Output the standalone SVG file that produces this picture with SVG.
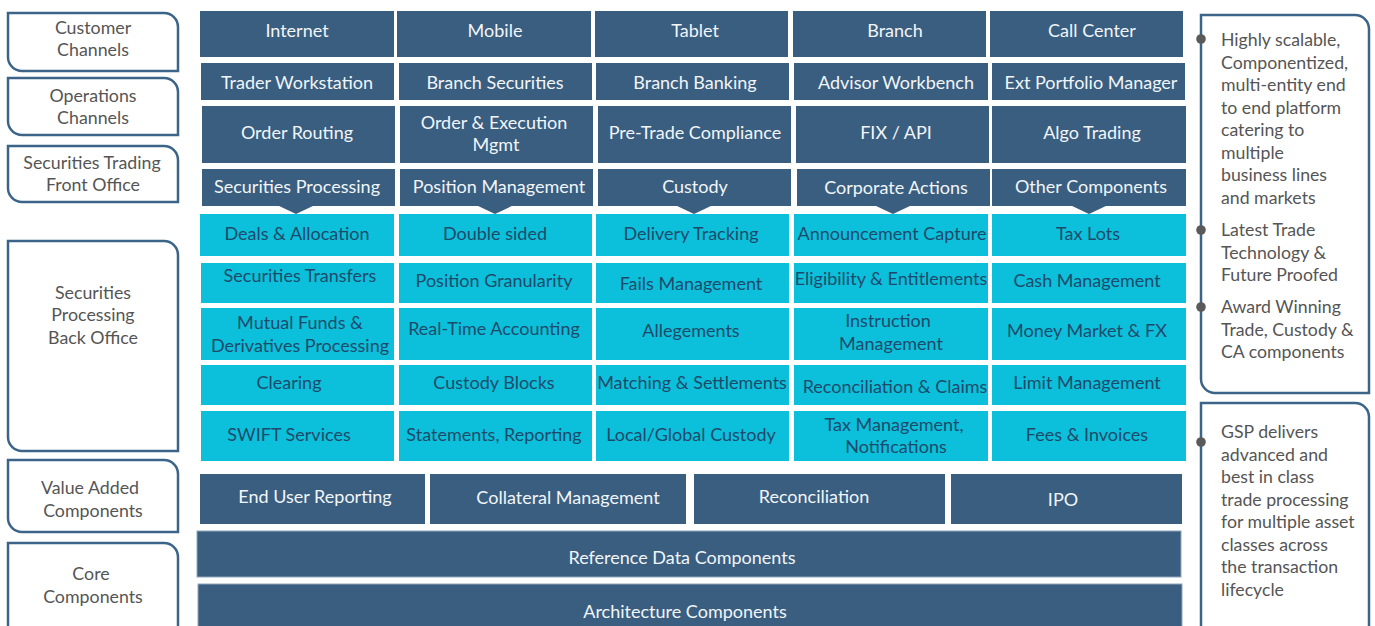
<svg xmlns="http://www.w3.org/2000/svg" width="1375" height="626" viewBox="0 0 1375 626">
<style>
.d{fill:#395e80}
.c{fill:#0cbfdb}
.tw{font-family:Lato,"Open Sans",sans-serif;font-size:18px;fill:#f2f5f8;text-anchor:middle}
.tc{font-family:Lato,"Open Sans",sans-serif;font-size:18px;fill:#1e4a6a;text-anchor:middle}
.lb{fill:#fff;stroke:#3b6488;stroke-width:2.5}
.tl{font-family:Lato,"Open Sans",sans-serif;font-size:17.8px;fill:#555;text-anchor:middle}
.tr{font-family:Lato,"Open Sans",sans-serif;font-size:17.7px;fill:#555}
.dot{fill:#5a5a5a}
</style>
<rect width="1375" height="626" fill="#fff"/>

<g id="left-labels">
<g id="lbl-customer"><path class="lb" d="M8,13 H164 A14,14 0 0 1 178,27 V71 H22 A14,14 0 0 1 8,57 Z"/><text class="tl" x="93" y="34">Customer</text><text class="tl" x="93" y="56">Channels</text></g>
<g id="lbl-operations"><path class="lb" d="M8,78 H164 A14,14 0 0 1 178,92 V135 H22 A14,14 0 0 1 8,121 Z"/><text class="tl" x="93" y="102">Operations</text><text class="tl" x="93" y="124">Channels</text></g>
<g id="lbl-front"><path class="lb" d="M8,146 H164 A14,14 0 0 1 178,160 V202 H22 A14,14 0 0 1 8,188 Z"/><text class="tl" x="92" y="169">Securities Trading</text><text class="tl" x="93" y="191">Front Office</text></g>
<g id="lbl-back"><path class="lb" d="M8,241 H164 A14,14 0 0 1 178,255 V451 H22 A14,14 0 0 1 8,437 Z"/><text class="tl" x="93" y="299">Securities</text><text class="tl" x="93" y="321">Processing</text><text class="tl" x="93" y="344">Back Office</text></g>
<g id="lbl-value"><path class="lb" d="M8,460 H164 A14,14 0 0 1 178,474 V532 H22 A14,14 0 0 1 8,518 Z"/><text class="tl" x="90" y="494">Value Added</text><text class="tl" x="93" y="517">Components</text></g>
<g id="lbl-core"><path class="lb" d="M8,543 H164 A14,14 0 0 1 178,557 V650 H22 A14,14 0 0 1 8,636 Z"/><text class="tl" x="91" y="580">Core</text><text class="tl" x="93" y="603">Components</text></g>
</g>

<g id="row-customer">
<g id="n-internet"><rect class="d" x="200" y="11" width="194" height="46"/><text class="tw" x="297" y="37">Internet</text></g>
<g id="n-mobile"><rect class="d" x="397" y="11" width="194" height="46"/><text class="tw" x="495" y="37">Mobile</text></g>
<g id="n-tablet"><rect class="d" x="595" y="11" width="193" height="46"/><text class="tw" x="695" y="37">Tablet</text></g>
<g id="n-branch"><rect class="d" x="793" y="11" width="193" height="46"/><text class="tw" x="895" y="37">Branch</text></g>
<g id="n-callcenter"><rect class="d" x="990" y="11" width="193" height="46"/><text class="tw" x="1092" y="37">Call Center</text></g>
</g>

<g id="row-operations">
<g id="n-trader"><rect class="d" x="201" y="63" width="193" height="37"/><text class="tw" x="297" y="89">Trader Workstation</text></g>
<g id="n-branchsec"><rect class="d" x="399" y="63" width="193" height="37"/><text class="tw" x="495" y="89">Branch Securities</text></g>
<g id="n-branchbank"><rect class="d" x="596" y="63" width="193" height="37"/><text class="tw" x="695" y="89">Branch Banking</text></g>
<g id="n-advisor"><rect class="d" x="794" y="63" width="194" height="37"/><text class="tw" x="896" y="89">Advisor Workbench</text></g>
<g id="n-extpm"><rect class="d" x="992" y="63" width="193" height="37"/><text class="tw" x="1091" y="89">Ext  Portfolio Manager</text></g>
</g>

<g id="row-front">
<g id="n-orderrouting"><rect class="d" x="202" y="106" width="193" height="57"/><text class="tw" x="297" y="139">Order Routing</text></g>
<g id="n-orderexec"><rect class="d" x="400" y="106" width="193" height="57"/><text class="tw" x="494" y="129">Order &amp; Execution</text><text class="tw" x="496" y="151">Mgmt</text></g>
<g id="n-pretrade"><rect class="d" x="598" y="106" width="193" height="57"/><text class="tw" x="695" y="139">Pre-Trade Compliance</text></g>
<g id="n-fix"><rect class="d" x="796" y="106" width="193" height="57"/><text class="tw" x="896" y="139">FIX / API</text></g>
<g id="n-algo"><rect class="d" x="992" y="106" width="194" height="57"/><text class="tw" x="1092" y="139">Algo Trading</text></g>
</g>

<g id="row-headers">
<g id="h-secproc"><rect class="d" x="202" y="169" width="193" height="37"/><polygon class="d" points="277,205 315,205 296,214"/><text class="tw" x="297" y="193">Securities Processing</text></g>
<g id="h-position"><rect class="d" x="400" y="169" width="193" height="37"/><polygon class="d" points="476,205 514,205 495,214"/><text class="tw" x="499" y="193">Position Management</text></g>
<g id="h-custody"><rect class="d" x="598" y="169" width="193" height="37"/><polygon class="d" points="675,205 713,205 694,214"/><text class="tw" x="695" y="193">Custody</text></g>
<g id="h-corp"><rect class="d" x="797" y="169" width="193" height="37"/><polygon class="d" points="874,205 912,205 893,214"/><text class="tw" x="896" y="194">Corporate  Actions</text></g>
<g id="h-other"><rect class="d" x="992" y="169" width="194" height="37"/><polygon class="d" points="1070,205 1108,205 1089,214"/><text class="tw" x="1091" y="193">Other Components</text></g>
</g>

<g id="back-office">
<g id="n-deals"><rect class="c" x="200" y="214" width="194" height="42"/><text class="tc" x="297" y="240">Deals &amp; Allocation</text></g>
<g id="n-double"><rect class="c" x="399" y="214" width="193" height="42"/><text class="tc" x="495" y="240">Double sided</text></g>
<g id="n-delivery"><rect class="c" x="596" y="214" width="193" height="42"/><text class="tc" x="691" y="240">Delivery Tracking</text></g>
<g id="n-announce"><rect class="c" x="794" y="214" width="194" height="42"/><text class="tc" x="892" y="240">Announcement Capture</text></g>
<g id="n-taxlots"><rect class="c" x="992" y="214" width="194" height="42"/><text class="tc" x="1088" y="240">Tax Lots</text></g>

<g id="n-sectransfers"><rect class="c" x="201" y="263" width="193" height="40"/><text class="tc" x="300" y="282">Securities Transfers</text></g>
<g id="n-posgran"><rect class="c" x="399" y="263" width="193" height="40"/><text class="tc" x="494" y="287">Position Granularity</text></g>
<g id="n-fails"><rect class="c" x="596" y="263" width="193" height="40"/><text class="tc" x="691" y="290">Fails Management</text></g>
<g id="n-eligibility"><rect class="c" x="794" y="263" width="194" height="40"/><text class="tc" x="891" y="285">Eligibility &amp; Entitlements</text></g>
<g id="n-cash"><rect class="c" x="992" y="263" width="194" height="40"/><text class="tc" x="1087" y="287">Cash Management</text></g>

<g id="n-mutual"><rect class="c" x="201" y="308" width="193" height="52"/><text class="tc" x="300" y="329">Mutual Funds &amp;</text><text class="tc" x="300" y="352">Derivatives Processing</text></g>
<g id="n-realtime"><rect class="c" x="399" y="308" width="193" height="52"/><text class="tc" x="494" y="335">Real-Time Accounting</text></g>
<g id="n-allege"><rect class="c" x="596" y="308" width="193" height="52"/><text class="tc" x="691" y="337">Allegements</text></g>
<g id="n-instruction"><rect class="c" x="794" y="308" width="194" height="52"/><text class="tc" x="888" y="327">Instruction</text><text class="tc" x="891" y="350">Management</text></g>
<g id="n-money"><rect class="c" x="992" y="308" width="194" height="52"/><text class="tc" x="1087" y="337">Money Market &amp; FX</text></g>

<g id="n-clearing"><rect class="c" x="201" y="365" width="193" height="40"/><text class="tc" x="289" y="389">Clearing</text></g>
<g id="n-custblocks"><rect class="c" x="399" y="365" width="193" height="40"/><text class="tc" x="494" y="389">Custody Blocks</text></g>
<g id="n-matching"><rect class="c" x="596" y="365" width="193" height="40"/><text class="tc" x="692" y="389">Matching &amp; Settlements</text></g>
<g id="n-reconclaims"><rect class="c" x="794" y="365" width="194" height="40"/><text class="tc" x="895" y="393">Reconciliation &amp; Claims</text></g>
<g id="n-limit"><rect class="c" x="992" y="365" width="194" height="40"/><text class="tc" x="1087" y="389">Limit Management</text></g>

<g id="n-swift"><rect class="c" x="201" y="411" width="193" height="50"/><text class="tc" x="289" y="441">SWIFT Services</text></g>
<g id="n-statements"><rect class="c" x="399" y="411" width="193" height="50"/><text class="tc" x="494" y="441">Statements, Reporting</text></g>
<g id="n-localglobal"><rect class="c" x="596" y="411" width="193" height="50"/><text class="tc" x="691" y="441">Local/Global Custody</text></g>
<g id="n-taxmgmt"><rect class="c" x="794" y="411" width="194" height="50"/><text class="tc" x="894" y="431">Tax Management,</text><text class="tc" x="896" y="453">Notifications</text></g>
<g id="n-fees"><rect class="c" x="992" y="411" width="194" height="50"/><text class="tc" x="1087" y="441">Fees &amp; Invoices</text></g>
</g>

<g id="value-added">
<g id="n-enduser"><rect class="d" x="200" y="474" width="225" height="50"/><text class="tw" x="315" y="503">End User Reporting</text></g>
<g id="n-collateral"><rect class="d" x="430" y="474" width="256" height="50"/><text class="tw" x="568" y="504">Collateral  Management</text></g>
<g id="n-reconciliation"><rect class="d" x="694" y="474" width="251" height="50"/><text class="tw" x="814" y="503">Reconciliation</text></g>
<g id="n-ipo"><rect class="d" x="951" y="474" width="231" height="50"/><text class="tw" x="1063" y="506">IPO</text></g>
</g>

<g id="core">
<g id="n-refdata"><rect class="d" x="197" y="531" width="984" height="46" stroke="#8fa6bb" stroke-width="1"/><text class="tw" x="682" y="564">Reference Data Components</text></g>
<g id="n-arch"><rect class="d" x="198" y="584" width="984" height="60" stroke="#8fa6bb" stroke-width="1"/><text class="tw" x="685" y="618">Architecture Components</text></g>
</g>

<g id="right-panels">
<g id="panel-features"><path class="lb" d="M1201,15 H1355 A14,14 0 0 1 1369,29 V393 H1215 A14,14 0 0 1 1201,379 Z"/>
<circle class="dot" cx="1201" cy="39" r="4.8"/><circle class="dot" cx="1201" cy="230" r="4.8"/><circle class="dot" cx="1201" cy="307" r="4.8"/>
<text class="tr" x="1221" y="46">Highly scalable,</text>
<text class="tr" x="1221" y="68.5">Componentized,</text>
<text class="tr" x="1221" y="91">multi-entity end</text>
<text class="tr" x="1221" y="113.5">to end platform</text>
<text class="tr" x="1221" y="136">catering to</text>
<text class="tr" x="1221" y="158.5">multiple</text>
<text class="tr" x="1221" y="181">business lines</text>
<text class="tr" x="1221" y="203.5">and markets</text>
<text class="tr" x="1221" y="236">Latest Trade</text>
<text class="tr" x="1221" y="258.5">Technology &amp;</text>
<text class="tr" x="1221" y="281">Future Proofed</text>
<text class="tr" x="1221" y="313">Award Winning</text>
<text class="tr" x="1221" y="335.5">Trade, Custody &amp;</text>
<text class="tr" x="1221" y="358">CA components</text>
</g>
<g id="panel-gsp"><path class="lb" d="M1201,403 H1355 A14,14 0 0 1 1369,417 V650 H1215 A14,14 0 0 1 1201,636 Z"/>
<circle class="dot" cx="1201" cy="442" r="4.8"/>
<text class="tr" x="1221" y="438">GSP delivers</text>
<text class="tr" x="1221" y="460.5">advanced and</text>
<text class="tr" x="1221" y="483">best in class</text>
<text class="tr" x="1221" y="505.5">trade processing</text>
<text class="tr" x="1221" y="528">for multiple asset</text>
<text class="tr" x="1221" y="550.5">classes across</text>
<text class="tr" x="1221" y="573">the transaction</text>
<text class="tr" x="1221" y="595.5">lifecycle</text>
</g>
</g>
</svg>
